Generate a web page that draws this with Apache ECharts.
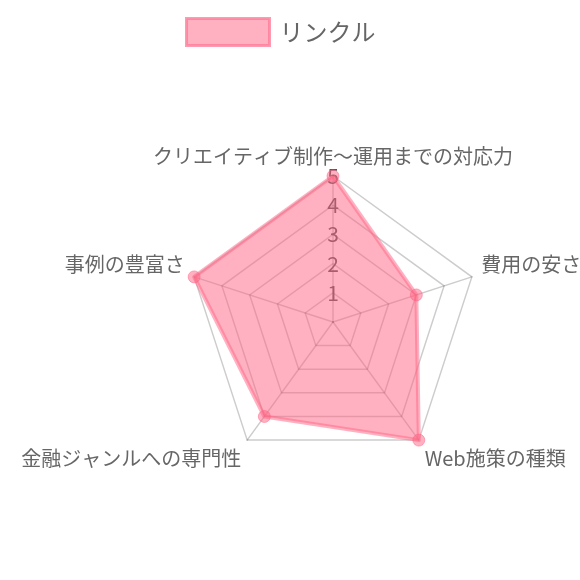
<!DOCTYPE html>
<html><head><meta charset="utf-8">
<script src="https://cdn.jsdelivr.net/npm/echarts@6/dist/echarts.min.js"></script>
<style>html,body{margin:0;padding:0;background:#fff}#c{width:580px;height:580px}</style>
</head><body><div id="c"></div>
<script>
// categories in clockwise order starting at the top
var categories = ['クリエイティブ制作〜運用までの対応力', '費用の安さ', 'Web施策の種類', '金融ジャンルへの専門性', '事例の豊富さ'];
var seriesName = 'リンクル';
var values = [5, 3, 5, 4, 5];
var tickLabels = ['1', '2', '3', '4', '5'];
var maxValue = 5;

// ECharts radar lays indicators counter-clockwise; reorder to keep the clockwise layout
var order = [0, 4, 3, 2, 1];
var font = "'Noto Sans CJK JP', 'Noto Sans', sans-serif";
var chart = echarts.init(document.getElementById('c'));
chart.setOption({
  animation: false,
  legend: {
    data: [seriesName],
    left: 185, top: 17, padding: 0,
    itemWidth: 83, itemHeight: 27, itemGap: 10,
    icon: 'rect',
    itemStyle: { color: 'rgba(255,99,132,0.5)', borderColor: 'rgba(255,120,150,0.75)', borderWidth: 3 },
    textStyle: { color: '#666', fontSize: 24, fontFamily: font, padding: [0, 0, 0, 5] }
  },
  polar: { center: [333, 322], radius: 146 },
  angleAxis: { show: false, startAngle: 90, min: 0, max: 360 },
  radiusAxis: {
    min: 0, max: maxValue, interval: 1, z: 1,
    axisLine: { show: false }, axisTick: { show: false }, splitLine: { show: false },
    axisLabel: {
      margin: 0, align: 'center', verticalAlign: 'middle',
      color: '#555', fontSize: 21, fontFamily: font,
      formatter: function (v) { var i = Math.round(v) - 1; return i >= 0 ? tickLabels[i] : ''; }
    }
  },
  radar: {
    center: [333, 322], radius: 146, startAngle: 90, splitNumber: 5, z: 0,
    shape: 'polygon',
    indicator: order.map(function (i) { return { name: categories[i], max: maxValue, min: 0 }; }),
    axisName: {
      color: '#666', fontSize: 20, fontFamily: font,
      formatter: function (n) {
        var idx = categories.indexOf(n);
        if (idx === 1 || idx === 4) return '{up|' + n + '}';
        if (idx === 2 || idx === 3) return '{dn|' + n + '}';
        return n;
      },
      rich: {
        up: { color: '#666', fontSize: 20, fontFamily: font, padding: [0, 0, 18, 0] },
        dn: { color: '#666', fontSize: 20, fontFamily: font, padding: [20, 0, 0, 0] }
      }
    },
    nameGap: 10,
    splitLine: { lineStyle: { color: 'rgba(0,0,0,0.2)', width: 1.5 } },
    axisLine: { lineStyle: { color: 'rgba(0,0,0,0.2)', width: 1.5 } },
    splitArea: { show: false }
  },
  series: [{
    type: 'radar', name: seriesName, z: 3,
    symbol: 'circle', symbolSize: 12,
    lineStyle: { color: 'rgba(255,99,132,0.5)', width: 4 },
    itemStyle: { color: 'rgba(255,99,132,0.5)', borderColor: 'rgba(255,99,132,0.5)', borderWidth: 1 },
    areaStyle: { color: 'rgba(255,99,132,0.5)', opacity: 1 },
    data: [{ name: seriesName, value: order.map(function (i) { return values[i]; }) }]
  }]
});
</script></body></html>
